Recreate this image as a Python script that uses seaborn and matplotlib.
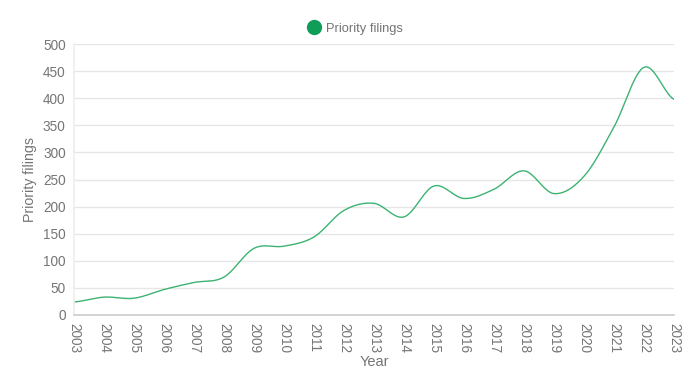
import numpy as np
import pandas as pd
import seaborn as sns
import matplotlib
matplotlib.use("Agg")
import matplotlib.pyplot as plt
from matplotlib.lines import Line2D

# values
years = list(range(2003, 2024))
filings = [24, 33, 31, 47, 60, 70, 123, 127, 144, 193, 206, 181, 238, 215,
           232, 266, 224, 256, 347, 457, 398]

df = pd.DataFrame({"Year": years, "Priority filings": filings})


def smooth(x, y, steps=20):
    # catmull-rom style curve through the points (like curveType: function)
    x = np.asarray(x, float)
    y = np.asarray(y, float)
    px = np.concatenate([[2 * x[0] - x[1]], x, [2 * x[-1] - x[-2]]])
    py = np.concatenate([[y[0]], y, [y[-1]]])
    xs, ys = [], []
    t = np.linspace(0, 1, steps, endpoint=False)
    for i in range(1, len(px) - 2):
        m0 = (py[i + 1] - py[i - 1]) / 2
        m1 = (py[i + 2] - py[i]) / 2
        h00 = 2 * t**3 - 3 * t**2 + 1
        h10 = t**3 - 2 * t**2 + t
        h01 = -2 * t**3 + 3 * t**2
        h11 = t**3 - t**2
        xs.extend(px[i] + t * (px[i + 1] - px[i]))
        ys.extend(h00 * py[i] + h10 * m0 + h01 * py[i + 1] + h11 * m1)
    xs.append(x[-1])
    ys.append(y[-1])
    return np.array(xs), np.array(ys)


sns.set_theme(style="white")
plt.rcParams["font.family"] = ["Liberation Sans", "DejaVu Sans"]

grey = "#757575"
green = "#0f9d58"

fig = plt.figure(figsize=(6.96, 3.85), dpi=100)
ax = fig.add_axes([74 / 696, 1 - 315 / 385, 600 / 696, 271 / 385])

sx, sy = smooth(df["Year"], df["Priority filings"])
sns.lineplot(x=sx, y=sy, ax=ax, color="#3cb371", lw=1.0, sort=False)

ax.set_xlim(2003, 2023)
ax.set_ylim(0, 500)
ax.set_yticks(range(0, 501, 50))
ax.set_xticks(years)
ax.set_xticklabels([str(y) for y in years], rotation=-90, va="top")
ax.tick_params(axis="both", length=0, labelsize=9.8, labelcolor=grey)
ax.tick_params(axis="x", pad=6)
ax.tick_params(axis="y", pad=6)
ax.grid(axis="y", color="#e6e6e6", lw=1)
for s in ["top", "right"]:
    ax.spines[s].set_visible(False)
ax.spines["left"].set_color("#eeeeee")
ax.spines["bottom"].set_color("#cccccc")
ax.spines["bottom"].set_linewidth(1.2)

ax.set_xlabel("Year", fontsize=10.5, color=grey, labelpad=1)
ax.set_ylabel("Priority filings", fontsize=10.2, color=grey, labelpad=4)

handle = Line2D([], [], marker="o", ls="", color=green, markersize=10)
fig.legend([handle], ["Priority filings"], loc="center", bbox_to_anchor=(355 / 696, 1 - 29 / 385),
           frameon=False, fontsize=9.3, labelcolor=grey, handletextpad=0.4, handlelength=1.0)

fig.savefig("out.png", dpi=100)
